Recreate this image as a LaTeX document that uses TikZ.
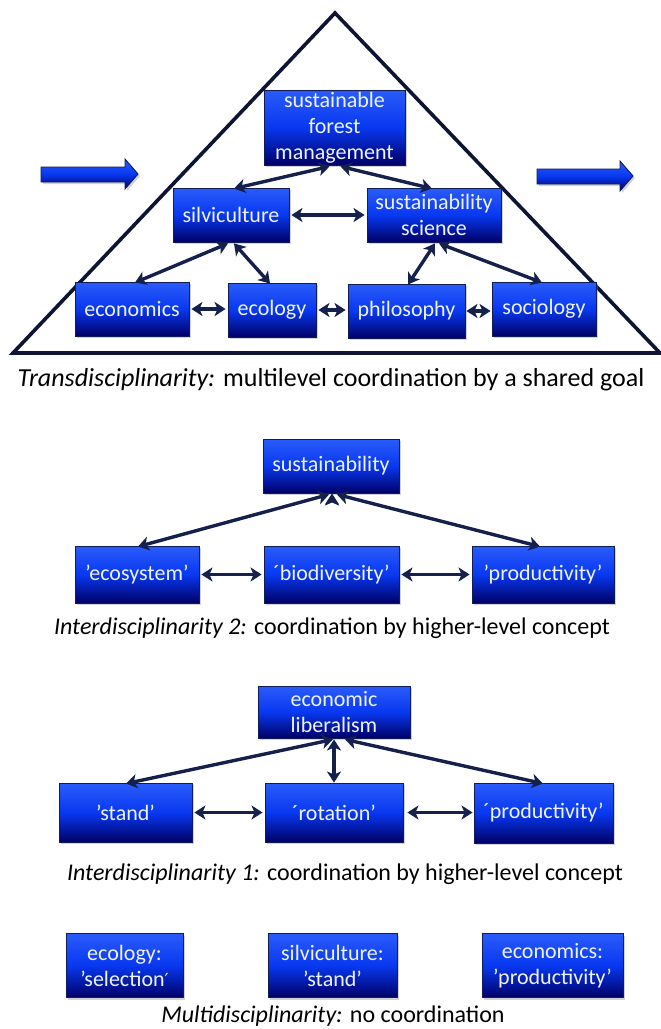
\documentclass[tikz,border=0pt]{standalone}
\usepackage{fontspec}
\setmainfont{Carlito}
\newfontfamily\dvfont{DejaVu Sans}
\usetikzlibrary{arrows.meta,shadows,calc}
\definecolor{boxtop}{HTML}{2A5CFA}
\definecolor{boxmid}{HTML}{0838F0}
\definecolor{boxbot}{HTML}{000066}
\definecolor{boxedge}{HTML}{101C5A}
\definecolor{boxtext}{HTML}{EEF3FF}
\definecolor{arrowc}{HTML}{15204C}
\definecolor{triline}{HTML}{0E1434}
\tikzset{
  box/.style={draw=boxedge, line width=0.9pt, top color=boxtop, bottom color=boxbot, middle color=boxmid,
    text=boxtext, font=\fontsize{22}{26}\selectfont, align=center, inner sep=0pt,
    drop shadow={shadow xshift=2pt, shadow yshift=-2pt, opacity=0.35}},
  conn/.style={{Stealth[length=11pt,width=14pt,inset=3pt]}-{Stealth[length=11pt,width=14pt,inset=3pt]}, line width=3.4pt, draw=arrowc},
  caption/.style={font=\fontsize{24}{28}\selectfont, text=black, inner sep=0pt},
  blockarrow/.style={draw=boxedge, line width=0.9pt, top color=boxtop, bottom color=boxbot, middle color=boxmid,
    drop shadow={shadow xshift=2pt, shadow yshift=-2pt, opacity=0.35}}
}
\begin{document}
\begin{tikzpicture}[x=1pt,y=-1pt]
\useasboundingbox (0,0) rectangle (661,1029);
\fill[white] (0,0) rectangle (661,1029);

% ---------- Transdisciplinarity ----------
\draw[line width=3.6pt, draw=triline, line join=miter] (335,13) -- (13,353) -- (660,353) -- cycle;
\shade[blockarrow] (41,167) -- (125,167) -- (125,159) -- (138,174) -- (125,189) -- (125,182) -- (41,182) -- cycle;
\shade[blockarrow] (537,169) -- (620,169) -- (620,161) -- (633,176) -- (620,191) -- (620,184) -- (537,184) -- cycle;

\node[box, minimum width=141pt, minimum height=75pt] (sfm) at (334.5,127.5) {sustainable\\forest\\management};
\node[box, minimum width=116pt, minimum height=54pt] (silv) at (231,215) {silviculture};
\node[box, minimum width=134pt, minimum height=54pt] (sci) at (434,215) {sustainability\\science};
\node[box, minimum width=114pt, minimum height=54pt] (econ) at (132,309) {economics};
\node[box, minimum width=88pt, minimum height=54pt] (ecol) at (272,310) {ecology};
\node[box, minimum width=117pt, minimum height=54pt] (phil) at (406.5,311) {philosophy};
\node[box, minimum width=104pt, minimum height=54pt] (soc) at (544,309) {sociology};

\draw[conn] ($(sfm.south)+(-5,1)$) -- ($(silv.north)+(3,1)$);
\draw[conn] ($(sfm.south)+(6,1)$) -- ($(sci.north)+(-2,1)$);
\draw[conn] ($(silv.east)+(2,0)$) -- ($(sci.west)+(-2,0)$);
\draw[conn] ($(silv.south)+(-3,1)$) -- ($(econ.north)+(3,1)$);
\draw[conn] ($(silv.south)+(3,1)$) -- ($(ecol.north)+(-2,1)$);
\draw[conn] ($(sci.south)+(1,1)$) -- ($(phil.north)+(1.5,1)$);
\draw[conn] ($(sci.south)+(5,1)$) -- ($(soc.north)+(-2,1)$);
\draw[conn] ($(econ.east)+(2,0)$) -- ($(econ.east -| ecol.west)+(-2,0)$);
\draw[conn] ($(ecol.east)+(2,0)$) -- ($(ecol.east -| phil.west)+(-2,0)$);
\draw[conn] ($(phil.east)+(1,0)$) -- ($(phil.east -| soc.west)+(-1,0)$);

\node[caption, font=\fontsize{26}{30}\selectfont] (cap1) at (331,380) {\textit{Transdisciplinarity:} multilevel coordination by a shared goal};

% ---------- Interdisciplinarity 2 ----------
\node[box, minimum width=136pt, minimum height=54pt] (sust) at (331,466) {sustainability};
\node[box, minimum width=124pt, minimum height=57pt] (ecosys) at (137,574.5) {’ecosystem’};
\node[box, minimum width=135pt, minimum height=57pt] (biod) at (331.5,574.5) {´biodiversity’};
\node[box, minimum width=142pt, minimum height=57pt] (prodA) at (543,574.5) {’productivity’};

\draw[conn] ($(sust.south)+(-2,1)$) -- ($(ecosys.north)+(1,1)$);
\draw[conn] ($(sust.south)+(1,1)$) -- ($(sust.south)+(1,0)$ |- biod.north);
\draw[conn] ($(sust.south)+(6,1)$) -- ($(prodA.north)+(-3,1)$);
\draw[conn] ($(ecosys.east)+(2,0)$) -- ($(biod.west)+(-2,0)$);
\draw[conn] ($(biod.east)+(2,0)$) -- ($(prodA.west)+(-2,0)$);

\node[caption] (cap2) at (332,628) {\textit{Interdisciplinarity 2:} coordination by higher-level concept};

% ---------- Interdisciplinarity 1 ----------
\node[box, minimum width=152pt, minimum height=52pt] (lib) at (334,712) {economic\\liberalism};
\node[box, minimum width=133pt, minimum height=59pt] (stand) at (125.5,812.5) {’stand’};
\node[box, minimum width=138pt, minimum height=59pt] (rot) at (334,812.5) {´rotation’};
\node[box, minimum width=139pt, minimum height=60pt] (prodB) at (543.5,813) {´productivity’};

\draw[conn] ($(lib.south)+(-1,1)$) -- ($(stand.north)+(0.5,1)$);
\draw[conn] ($(lib.south)+(0,1)$) -- (lib.south |- rot.north);
\draw[conn] ($(lib.south)+(11,1)$) -- ($(prodB.north)+(-0.5,1)$);
\draw[conn] ($(stand.east)+(2,0)$) -- ($(stand.east -| rot.west)+(-2,0)$);
\draw[conn] ($(rot.east)+(4,0)$) -- ($(rot.east -| prodB.west)+(-1,0)$);

\node[caption] (cap3) at (345,874) {\textit{Interdisciplinarity 1:} coordination by higher-level concept};

% ---------- Multidisciplinarity ----------
\node[box, minimum width=117pt, minimum height=64pt] (m1) at (124.5,965.5) {ecology:\\’selection{\dvfont\fontsize{18}{26}\selectfont ′}};
\node[box, minimum width=129pt, minimum height=64pt] (m2) at (332.5,965.5) {silviculture:\\’stand’};
\node[box, minimum width=141pt, minimum height=64pt] (m3) at (552.5,965.5) {economics:\\’productivity’};

\node[caption] (cap4) at (333,1016) {\textit{Multidisciplinarity:} no coordination};
\end{tikzpicture}
\end{document}
